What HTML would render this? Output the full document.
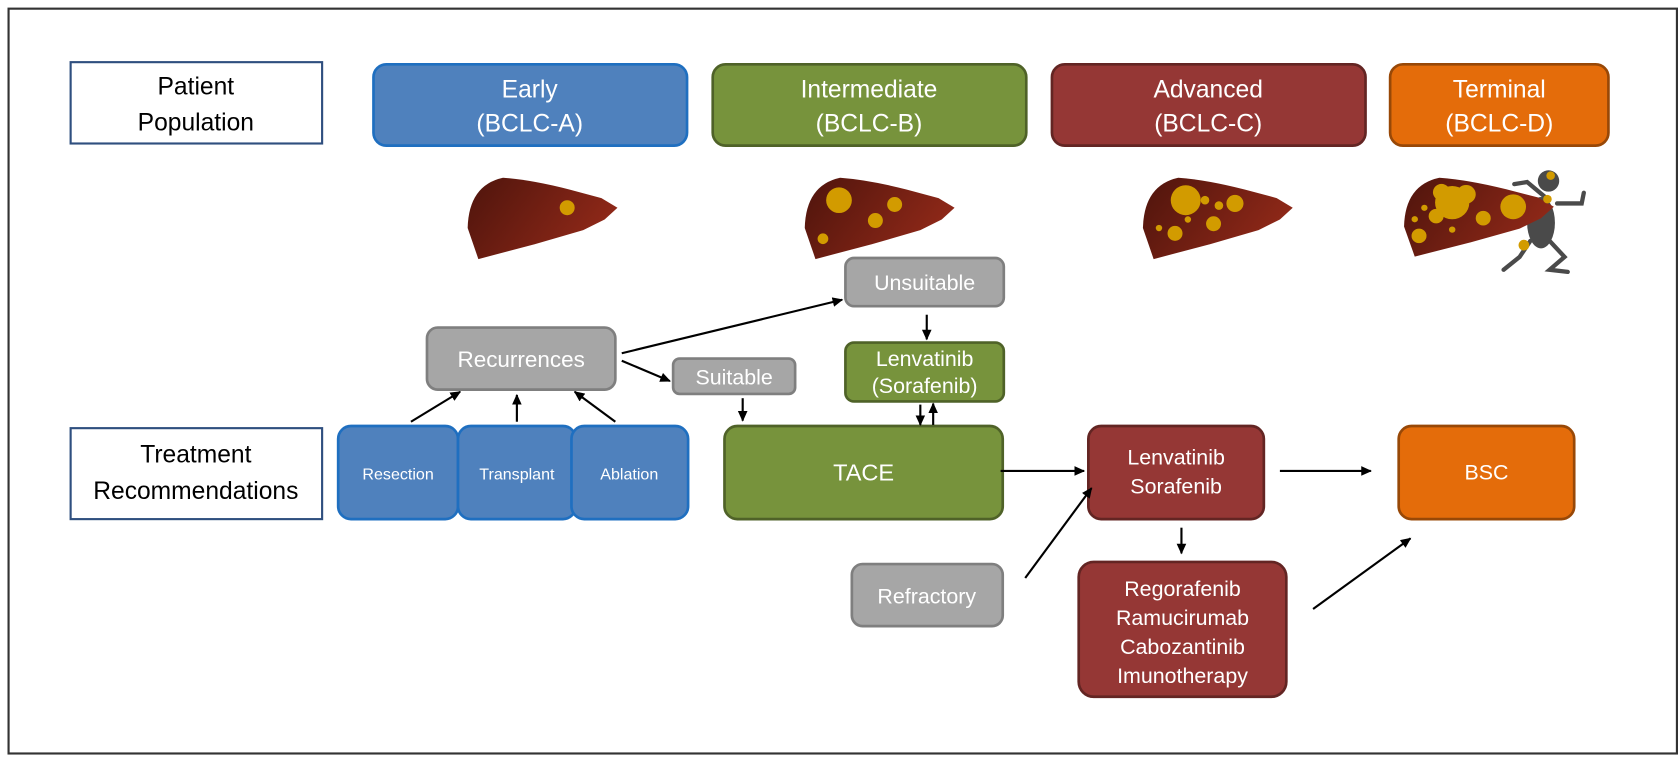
<!DOCTYPE html>
<html><head><meta charset="utf-8"><style>
html,body{margin:0;padding:0;background:#fff;}
svg{display:block}
text{font-family:"Liberation Sans","DejaVu Sans",sans-serif;}
</style></head><body>
<svg width="1678" height="760" viewBox="0 0 1568 710" xmlns="http://www.w3.org/2000/svg">
<defs>
<linearGradient id="lv" x1="0" y1="0" x2="1" y2="0.4">
<stop offset="0" stop-color="#4e140c"/><stop offset="1" stop-color="#8e2818"/></linearGradient>
<marker id="ah" markerWidth="12" markerHeight="12" refX="9" refY="6" orient="auto" markerUnits="userSpaceOnUse">
<path d="M0,1.5 L10,6 L0,10.5 Z" fill="#000"/></marker>
<g id="liver"><path d="M10,77 L0,48 Q1,8 33,1 Q60,3 95,12 L125,20 L140,29 L128,40 L108,50 L63,63 Z" fill="url(#lv)"/></g>
</defs>
<rect x="8" y="8" width="1559" height="696" fill="#fff" stroke="#333" stroke-width="2"/>

<g font-size="23" text-anchor="middle">
<rect x="66" y="58" width="235" height="76" fill="#fff" stroke="#2f4f7f" stroke-width="2"/>
<text x="183" y="88">Patient</text><text x="183" y="122">Population</text>
<rect x="66" y="400" width="235" height="85" fill="#fff" stroke="#2f4f7f" stroke-width="2"/>
<text x="183" y="432">Treatment</text><text x="183" y="466">Recommendations</text>
</g>

<g font-size="23" text-anchor="middle" fill="#fff" stroke-width="2.5">
<rect x="349" y="60" width="293" height="76" rx="12" fill="#4f81bd" stroke="#1f6fc0"/>
<text x="495" y="91">Early</text><text x="495" y="123">(BCLC-A)</text>
<rect x="666" y="60" width="293" height="76" rx="12" fill="#77933c" stroke="#4f6228"/>
<text x="812" y="91">Intermediate</text><text x="812" y="123">(BCLC-B)</text>
<rect x="983" y="60" width="293" height="76" rx="12" fill="#953735" stroke="#632523"/>
<text x="1129" y="91">Advanced</text><text x="1129" y="123">(BCLC-C)</text>
<rect x="1299" y="60" width="204" height="76" rx="12" fill="#e46c0a" stroke="#984807"/>
<text x="1401" y="91">Terminal</text><text x="1401" y="123">(BCLC-D)</text>
</g>

<g transform="translate(437,165)"><use href="#liver"/><circle cx="93" cy="29" r="7" fill="#d29b00"/></g>
<g transform="translate(752,165)"><use href="#liver"/>
<circle cx="32" cy="22" r="12" fill="#d29b00"/><circle cx="84" cy="26" r="7" fill="#d29b00"/><circle cx="66" cy="41" r="7" fill="#d29b00"/><circle cx="17" cy="58" r="5" fill="#d29b00"/></g>
<g transform="translate(1068,165)"><use href="#liver"/>
<circle cx="40" cy="22" r="14" fill="#d29b00"/><circle cx="86" cy="25" r="8" fill="#d29b00"/><circle cx="66" cy="44" r="7" fill="#d29b00"/><circle cx="71" cy="27" r="4" fill="#d29b00"/><circle cx="30" cy="53" r="7" fill="#d29b00"/><circle cx="15" cy="48" r="3" fill="#d29b00"/><circle cx="58" cy="22" r="4" fill="#d29b00"/><circle cx="42" cy="40" r="3" fill="#d29b00"/></g>
<g fill="none" stroke="#4a4a4a" stroke-width="4" stroke-linecap="round">
<path d="M1445,185 L1427,170 L1415,172"/><path d="M1455,190 L1478,190 L1480,180"/>
<path d="M1430,225 L1420,240 L1405,252"/><path d="M1448,225 L1462,240 L1448,252 L1465,254"/>
</g>
<ellipse cx="1440" cy="208" rx="13" ry="24" fill="#4a4a4a"/>
<circle cx="1447" cy="169" r="10" fill="#4a4a4a"/>
<g transform="translate(1312,165) scale(1.0,0.97)"><use href="#liver"/>
<circle cx="45" cy="25" r="16" fill="#d29b00"/><circle cx="35" cy="15" r="8" fill="#d29b00"/><circle cx="58" cy="17" r="9" fill="#d29b00"/><circle cx="30" cy="38" r="7" fill="#d29b00"/><circle cx="102" cy="29" r="12" fill="#d29b00"/><circle cx="74" cy="40" r="7" fill="#d29b00"/><circle cx="14" cy="57" r="7" fill="#d29b00"/><circle cx="45" cy="51" r="3" fill="#d29b00"/><circle cx="10" cy="41" r="3" fill="#d29b00"/><circle cx="19" cy="30" r="3" fill="#d29b00"/></g>
<circle cx="1449" cy="164" r="4" fill="#d29b00"/><circle cx="1446" cy="186" r="4" fill="#d29b00"/><circle cx="1424" cy="229" r="5" fill="#d29b00"/>

<g fill="#a6a6a6" stroke="#7f7f7f" stroke-width="2.5">
<rect x="790" y="241" width="148" height="45" rx="8"/>
<rect x="399" y="306" width="176" height="58" rx="10"/>
<rect x="629" y="335" width="114" height="33" rx="6"/>
<rect x="796" y="527" width="141" height="58" rx="10"/>
</g>
<g fill="#fff" text-anchor="middle" font-size="20">
<text x="864" y="271">Unsuitable</text>
<text x="487" y="343" font-size="21">Recurrences</text>
<text x="686" y="359">Suitable</text>
<text x="866" y="564">Refractory</text>
</g>

<g stroke-width="2.5">
<rect x="790" y="320" width="148" height="55" rx="8" fill="#77933c" stroke="#4f6228"/>
<rect x="677" y="398" width="260" height="87" rx="12" fill="#77933c" stroke="#4f6228"/>
<rect x="316" y="398" width="112" height="87" rx="12" fill="#4f81bd" stroke="#1f6fc0"/>
<rect x="428" y="398" width="110" height="87" rx="12" fill="#4f81bd" stroke="#1f6fc0"/>
<rect x="534" y="398" width="109" height="87" rx="12" fill="#4f81bd" stroke="#1f6fc0"/>
<rect x="1017" y="398" width="164" height="87" rx="12" fill="#953735" stroke="#632523"/>
<rect x="1008" y="525" width="194" height="126" rx="14" fill="#953735" stroke="#632523"/>
<rect x="1307" y="398" width="164" height="87" rx="12" fill="#e46c0a" stroke="#984807"/>
</g>
<g fill="#fff" text-anchor="middle" font-size="20">
<text x="864" y="342">Lenvatinib</text><text x="864" y="367">(Sorafenib)</text>
<text x="807" y="449" font-size="22">TACE</text>
<text x="372" y="448" font-size="15">Resection</text>
<text x="483" y="448" font-size="15">Transplant</text>
<text x="588" y="448" font-size="15">Ablation</text>
<text x="1099" y="434">Lenvatinib</text><text x="1099" y="461">Sorafenib</text>
<text x="1105" y="557">Regorafenib</text><text x="1105" y="584">Ramucirumab</text><text x="1105" y="611">Cabozantinib</text><text x="1105" y="638">Imunotherapy</text>
<text x="1389" y="448">BSC</text>
</g>

<g stroke="#000" stroke-width="2" marker-end="url(#ah)">
<line x1="384" y1="394" x2="430" y2="366"/>
<line x1="483" y1="394" x2="483" y2="369"/>
<line x1="575" y1="394" x2="537" y2="366"/>
<line x1="581" y1="330" x2="787" y2="280"/>
<line x1="581" y1="337" x2="626" y2="356"/>
<line x1="694" y1="372" x2="694" y2="393"/>
<line x1="866" y1="294" x2="866" y2="317"/>
<line x1="860" y1="378" x2="860" y2="397"/>
<line x1="872" y1="397" x2="872" y2="377"/>
<line x1="935" y1="440" x2="1013" y2="440"/>
<line x1="958" y1="540" x2="1020" y2="456"/>
<line x1="1104" y1="493" x2="1104" y2="517"/>
<line x1="1196" y1="440" x2="1281" y2="440"/>
<line x1="1227" y1="569" x2="1318" y2="503"/>
</g>
</svg>
</body></html>
